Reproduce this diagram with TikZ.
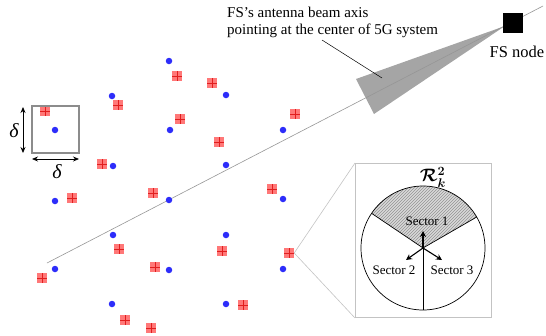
\RequirePackage{fix-cm}
\documentclass[tikz,border=0pt]{standalone}
\usepackage{amsmath}
\usepackage{fontspec}
\setmainfont{Liberation Serif}
\usetikzlibrary{arrows.meta,patterns,calc}
\definecolor{ueRed}{RGB}{255,120,120}
\definecolor{ueCross}{RGB}{225,30,30}
\definecolor{bsBlue}{RGB}{45,45,250}
\definecolor{beamGray}{RGB}{165,165,165}
\definecolor{axisGray}{RGB}{150,150,150}
\definecolor{boxGray}{RGB}{140,140,140}
\definecolor{insetGray}{RGB}{195,195,195}
\begin{document}
\begin{tikzpicture}[x=1pt,y=-1pt,
  ue/.style={rectangle, minimum size=10pt, inner sep=0pt, fill=ueRed,
    path picture={\draw[ueCross, line width=0.5pt]
      (path picture bounding box.north) -- (path picture bounding box.south)
      (path picture bounding box.west) -- (path picture bounding box.east);}},
  bs/.style={circle, minimum size=6.5pt, inner sep=0pt, fill=bsBlue},
  dimarrow/.style={{Stealth[length=6pt,width=5pt]}-{Stealth[length=6pt,width=5pt]}, line width=0.8pt},
  secarrow/.style={-{Stealth[length=6pt,width=6pt]}, line width=1.1pt},
  seclabel/.style={font=\fontsize{13}{15}\selectfont, inner sep=0pt},
  deltalabel/.style={font=\fontsize{20}{22}\selectfont\itshape, inner sep=0pt}
]
\useasboundingbox (0,0) rectangle (546,335);

% beam
\coordinate (apex) at (505,26);
\coordinate (bc1) at (356,79);
\coordinate (bc2) at (374,114);
\fill[beamGray] (apex) -- (bc1) -- (bc2) -- cycle;

% axis line
\coordinate (axstart) at (47,263);
\coordinate (axend) at (543,6);
\draw[axisGray, line width=0.6pt] (axstart) -- (axend);

% FS node
\node[fill=black, minimum size=20pt, inner sep=0pt] (fs) at (513,23) {};
\node[font=\fontsize{16.5}{18}\selectfont, anchor=base] (fslabel) at (517,57) {FS node};

% beam label
\node[font=\fontsize{15}{17.5}\selectfont, anchor=north west, align=left, inner sep=0pt] (beamlabel) at (227,6.5)
  {FS's antenna beam axis\\pointing at the center of 5G system};
\coordinate (leadstart) at (322,40);
\coordinate (leadend) at (382,78);
\draw[black, line width=0.5pt] (leadstart) -- (leadend);

% base stations
\foreach \x/\y [count=\i] in {169/61,112/96,226/95,55/130,170/130,283/130,113/166,226/165,55/201,169/200,283/199,113/235,226/235,55/269,169/270,283/269,112/304,226/304}
  \node[bs] (b\i) at (\x,\y) {};

% UEs
\foreach \x/\y [count=\i] in {177/76,212/83,118/105,45/111,180/119,295/114,219/142,102/164,72/198,153/193,272/189,119/249,222/251,289/253,155/267,42/278,243/305,125/320,151/328}
  \node[ue] (u\i) at (\x,\y) {};

% delta box
\node[draw=boxGray, line width=1.5pt, minimum size=47pt, inner sep=0pt] (dbox) at (55.5,129.5) {};
\coordinate (vtop) at (23,107);
\coordinate (vbot) at (23,153);
\draw[dimarrow] (vtop) -- (vbot);
\coordinate (hleft) at (32,159);
\coordinate (hright) at (79,159);
\draw[dimarrow] (hleft) -- (hright);
\node[deltalabel] (dl1) at (14,131) {δ};
\node[deltalabel] (dl2) at (57,172) {δ};

% inset
\node[draw=insetGray, line width=1pt, minimum width=136pt, minimum height=154pt, inner sep=0pt, anchor=north west] (inset) at (355,163) {};
\draw[insetGray, line width=0.6pt] (u14.east) -- (inset.north west);
\draw[insetGray, line width=0.6pt] (u14.east) -- (inset.south west);

\node[circle, minimum size=124pt, inner sep=0pt] (cell) at (423,248) {};
\begin{scope}
  \clip (cell.center) circle[radius=62pt];
  \path[fill=gray!30, postaction={pattern=north east lines, pattern color=gray!85}]
    (cell.center) -- ($(cell.center)!1.5!(cell.146)$) -- ($(cell.center)!1.5!(cell.90)$) -- ($(cell.center)!1.5!(cell.30)$) -- cycle;
\end{scope}
\draw[line width=0.7pt] (cell.center) circle[radius=62pt];
\draw[line width=0.7pt] (cell.146) -- (cell.center) -- (cell.30);
\draw[line width=0.7pt] (cell.center) -- (cell.270);

\coordinate (a1) at (423,231);
\coordinate (a2) at (406,260);
\coordinate (a3) at (442,260);
\draw[secarrow] (cell.center) -- (a1);
\draw[secarrow] (cell.center) -- (a2);
\draw[secarrow] (cell.center) -- (a3);

\node[seclabel] (s1) at (427,221) {Sector 1};
\node[seclabel] (s2) at (394,270) {Sector 2};
\node[seclabel] (s3) at (452,270) {Sector 3};
\node[font=\fontsize{18}{20}\selectfont\boldmath, inner sep=0pt] (rk) at (433,177) {$\mathcal{R}_k^2$};
\end{tikzpicture}
\end{document}
